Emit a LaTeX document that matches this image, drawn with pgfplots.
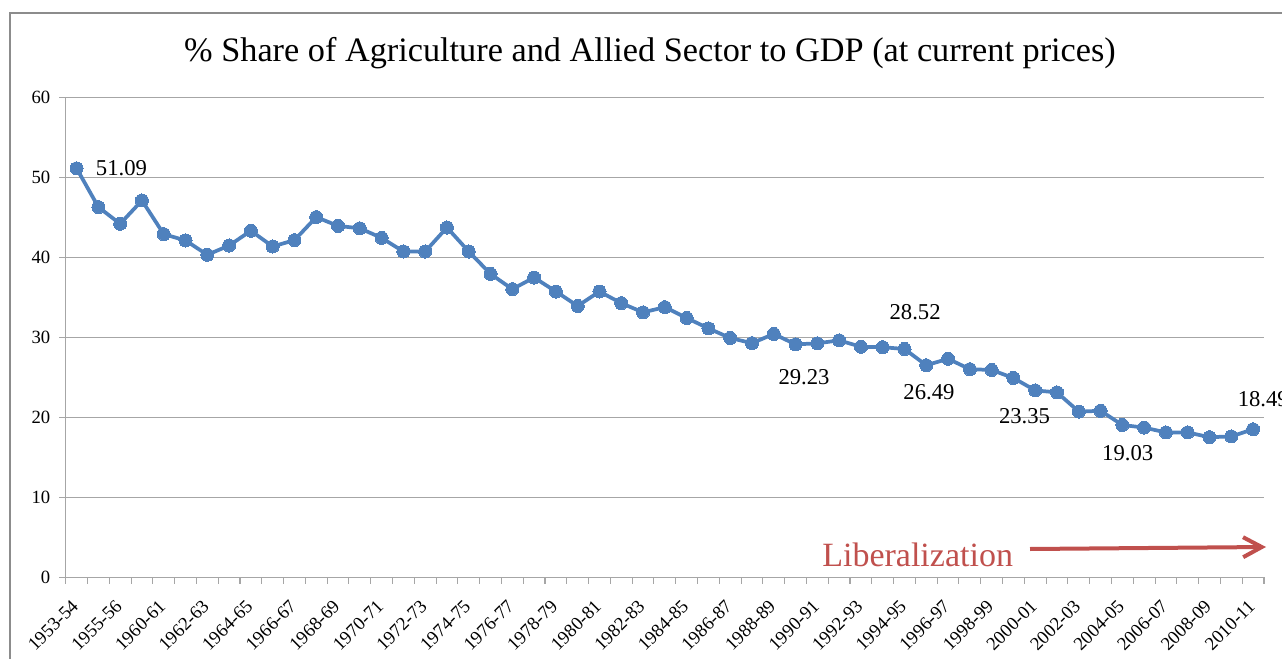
\documentclass[border=0pt]{standalone}
\usepackage{fontspec}
\setmainfont{Liberation Serif}
\usepackage{pgfplots}
\pgfplotsset{compat=1.18}
\usetikzlibrary{arrows.meta}
\definecolor{lineblue}{HTML}{4F81BD}
\definecolor{libred}{HTML}{C0504D}
\definecolor{gridgray}{HTML}{A6A6A6}
\definecolor{framegray}{HTML}{8C8C8C}

\pgfplotstableread{
idx val
0 51.09
1 46.25
2 44.16
3 47.08
4 42.87
5 42.08
6 40.29
7 41.45
8 43.29
9 41.33
10 42.12
11 45.00
12 43.90
13 43.60
14 42.40
15 40.70
16 40.70
17 43.70
18 40.70
19 37.90
20 36.00
21 37.45
22 35.70
23 33.90
24 35.70
25 34.25
26 33.10
27 33.75
28 32.40
29 31.10
30 29.90
31 29.25
32 30.40
33 29.10
34 29.23
35 29.60
36 28.80
37 28.75
38 28.52
39 26.49
40 27.30
41 26.00
42 25.90
43 24.90
44 23.35
45 23.10
46 20.70
47 20.80
48 19.03
49 18.70
50 18.10
51 18.10
52 17.50
53 17.60
54 18.49
}\agridata

\begin{document}
\begin{tikzpicture}[x=0.75pt,y=0.75pt]
\useasboundingbox (0,0) rectangle (1282,658);
\clip (0,0) rectangle (1282,658);
\draw[framegray, line width=1.3pt] (10,-10) -- (10,645) -- (1300,645);
\node[anchor=base, inner sep=0, font=\fontsize{25.7}{30}\selectfont] at (650,596)
  {\% Share of Agriculture and Allied Sector to GDP (at current prices)};
\begin{axis}[
  at={(49.275pt,60.525pt)}, anchor=south west,
  scale only axis, width=898.7pt, height=360.2pt,
  xmin=-0.5, xmax=54.5, ymin=0, ymax=60,
  axis x line=bottom, axis y line=left,
  axis line style={-, draw=gridgray, line width=0.9pt},
  xtick={0,2,...,54},
  xticklabels={1953-54,1955-56,1960-61,1962-63,1964-65,1966-67,1968-69,1970-71,1972-73,1974-75,1976-77,1978-79,1980-81,1982-83,1984-85,1986-87,1988-89,1990-91,1992-93,1994-95,1996-97,1998-99,2000-01,2002-03,2004-05,2006-07,2008-09,2010-11},
  minor xtick={-0.5,0.5,...,54.5},
  ytick={0,10,...,60},
  minor ytick={0,10,...,60},
  major tick length=0pt,
  minor tick length=5pt,
  tick align=outside,
  minor tick style={draw=gridgray, line width=0.8pt},
  ymajorgrids,
  major grid style={draw=gridgray, line width=0.8pt},
  /pgf/number format/assume math mode=true,
  yticklabel style={font=\fontsize{14}{16}\selectfont, xshift=-8pt},
  xticklabel style={font=\fontsize{14}{16}\selectfont, xshift=-4.5pt, yshift=-16pt, rotate=45, anchor=north east, inner sep=0pt},
  clip=false,
]
\addplot[color=lineblue, line width=2.8pt, mark=*, mark size=4.9pt, mark options={fill=lineblue, draw=lineblue, line width=0pt}] table[x=idx, y=val] {\agridata};
\node[font=\fontsize{17}{19}\selectfont, anchor=west] at (axis cs:0,51.09) [xshift=11pt] {51.09};
\node[font=\fontsize{17}{19}\selectfont] at (axis cs:34,29.23) [xshift=-10pt, yshift=-25.5pt] {29.23};
\node[font=\fontsize{17}{19}\selectfont] at (axis cs:38,28.52) [xshift=8pt, yshift=28pt] {28.52};
\node[font=\fontsize{17}{19}\selectfont] at (axis cs:39,26.49) [xshift=2pt, yshift=-20.5pt] {26.49};
\node[font=\fontsize{17}{19}\selectfont] at (axis cs:44,23.35) [xshift=-8pt, yshift=-19.5pt] {23.35};
\node[font=\fontsize{17}{19}\selectfont] at (axis cs:48,19.03) [xshift=4pt, yshift=-21pt] {19.03};
\node[font=\fontsize{17}{19}\selectfont, anchor=west] at (axis cs:54,18.49) [xshift=-15pt, yshift=22.5pt] {18.49};
\end{axis}
\node[anchor=base west, inner sep=0, text=libred, font=\fontsize{25.5}{30}\selectfont] at (822,92) {Liberalization};
\draw[libred, line width=3pt, -{Straight Barb[length=14pt, width=15pt]}] (1030,109) -- (1266,111);
\end{tikzpicture}
\end{document}
